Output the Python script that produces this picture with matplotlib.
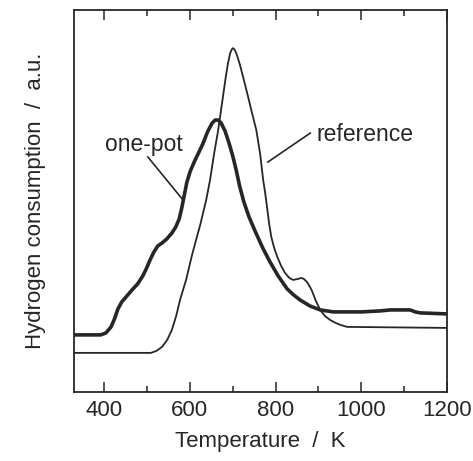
import matplotlib
matplotlib.use("Agg")
import matplotlib.pyplot as plt
from matplotlib.ticker import MultipleLocator

plt.rcParams['font.family'] = ['Liberation Sans', 'DejaVu Sans']

# temperature (K) and signal (a.u.)
onepot_T = [329, 360, 392, 404, 416, 424, 432, 441, 451, 465, 478, 490, 498,
            507, 516, 525, 535, 546, 558, 567, 575, 581, 587, 593, 601, 610,
            620, 630, 642, 652, 659, 666, 673, 682, 692, 700, 708, 716, 726,
            738, 752, 770, 787, 806, 827, 842, 857, 880, 904, 935, 967, 1000,
            1044, 1068, 1114, 1126, 1138, 1200]
onepot_y = [57, 57, 57, 59, 65, 73, 83, 90, 95, 102, 108, 116, 123,
            132, 140, 146, 149, 153, 159, 165, 173, 184, 197, 210, 221, 230,
            239, 248, 261, 269, 272, 272, 269, 261, 248, 236, 222, 206, 190,
            175, 161, 144, 130, 116, 103, 97, 92, 86, 82, 80, 80, 80,
            81, 82, 82, 80, 79, 78]

ref_T = [329, 509, 522, 535, 547, 558, 568, 577, 591, 605, 615, 624, 638,
         647, 656, 666, 677, 684, 689, 694, 698, 701, 705, 709, 717, 726,
         736, 745, 755, 764, 771, 776, 780, 785, 790, 796, 804, 813, 822,
         832, 841, 852, 860, 866, 873, 879, 885, 893, 904, 915, 927, 940,
         951, 967, 1200]
ref_y = [39, 39, 41, 45, 52, 62, 76, 92, 112, 137, 153, 167, 192,
         212, 237, 262, 295, 316, 329, 339, 343, 344, 342, 338, 327, 312,
         295, 279, 262, 238, 212, 198, 185, 168, 155, 145, 135, 126, 119,
         114, 112, 113, 114, 113, 110, 106, 101, 92, 82, 76, 72, 69,
         67, 65, 64]

ink = '#262626'

fig = plt.figure(figsize=(4.73, 4.61), dpi=100)
ax = fig.add_axes([0.156, 0.150, 0.789, 0.828])

ax.plot(ref_T, ref_y, color=ink, lw=1.3)
ax.plot(onepot_T, onepot_y, color=ink, lw=2.6)

# labels with leader lines
ax.plot([502, 584], [235, 192], color=ink, lw=1.2)
ax.text(492, 248, 'one-pot', fontsize=16.5, color=ink, ha='center', va='center')
ax.plot([881, 782], [259, 230], color=ink, lw=1.2)
ax.text(1009, 258, 'reference', fontsize=16.5, color=ink, ha='center', va='center')

ax.set_xlim(329, 1200)
ax.set_ylim(0, 382)
ax.xaxis.set_major_locator(MultipleLocator(200))
ax.xaxis.set_minor_locator(MultipleLocator(100))
ax.tick_params(axis='x', which='both', direction='in', top=True, colors=ink,
               labelsize=16, pad=6)
ax.tick_params(axis='x', which='major', length=7, width=1.1)
ax.tick_params(axis='x', which='minor', length=4, width=1.1)
ax.set_yticks([])
for s in ax.spines.values():
    s.set_linewidth(1.3)
    s.set_color(ink)

ax.set_xlabel('Temperature  /  K', fontsize=16, color=ink, labelpad=7)
ax.set_ylabel('Hydrogen consumption  /  a.u.', fontsize=16, color=ink, labelpad=20)

fig.savefig('out.png', dpi=100)
